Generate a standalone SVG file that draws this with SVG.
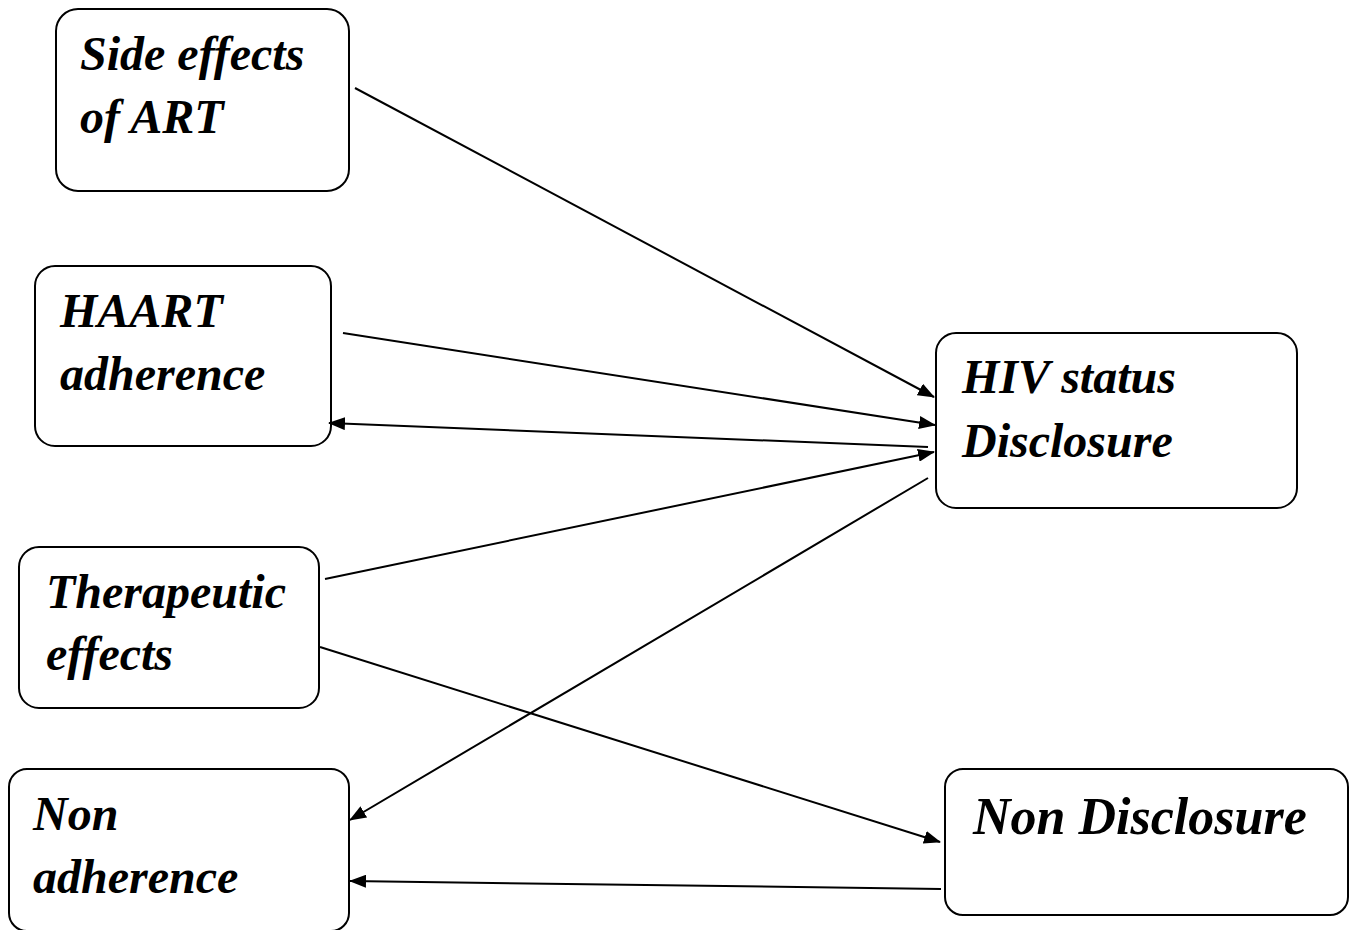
<svg xmlns="http://www.w3.org/2000/svg" width="1356" height="930" viewBox="0 0 1356 930">
<style>
.box{fill:#fff;stroke:#000;stroke-width:2}
.t{font-family:"Liberation Serif","Times New Roman",serif;font-weight:bold;font-style:italic;font-size:48px;fill:#000}
.big{font-size:52px}
.c line{stroke:#000;stroke-width:2}
</style>
<defs>
<marker id="ah" markerWidth="17" markerHeight="13" refX="16" refY="6.5" orient="auto" markerUnits="userSpaceOnUse">
<path d="M0,0 L17,6.5 L0,13 Z" fill="#000"/>
</marker>
</defs>
<rect width="1356" height="930" fill="#fff"/>
<g id="n1"><rect class="box" x="56" y="9" width="293" height="182" rx="22"/><text class="t" x="80" y="70">Side effects</text><text class="t" x="80" y="133">of ART</text></g>
<g id="n2"><rect class="box" x="35" y="266" width="296" height="180" rx="20"/><text class="t" x="60" y="327">HAART</text><text class="t" x="60" y="390">adherence</text></g>
<g id="n3"><rect class="box" x="936" y="333" width="361" height="175" rx="20"/><text class="t" x="962" y="393">HIV status</text><text class="t" x="962" y="457">Disclosure</text></g>
<g id="n4"><rect class="box" x="19" y="547" width="300" height="161" rx="20"/><text class="t" x="46" y="608">Therapeutic</text><text class="t" x="46" y="670">effects</text></g>
<g id="n5"><rect class="box" x="9" y="769" width="340" height="162" rx="18"/><text class="t" x="33" y="830">Non</text><text class="t" x="33" y="893">adherence</text></g>
<g id="n6"><rect class="box" x="945" y="769" width="403" height="146" rx="18"/><text class="t big" x="973" y="834">Non Disclosure</text></g>
<g class="c" id="connectors">
<line x1="355" y1="88" x2="934" y2="397" marker-end="url(#ah)"/>
<line x1="343" y1="333" x2="935" y2="425" marker-end="url(#ah)"/>
<line x1="928" y1="447" x2="329" y2="423" marker-end="url(#ah)"/>
<line x1="325" y1="579" x2="934" y2="452" marker-end="url(#ah)"/>
<line x1="928" y1="478" x2="350" y2="820" marker-end="url(#ah)"/>
<line x1="320" y1="647" x2="940" y2="842" marker-end="url(#ah)"/>
<line x1="941" y1="889" x2="350" y2="881" marker-end="url(#ah)"/>
</g>
</svg>
